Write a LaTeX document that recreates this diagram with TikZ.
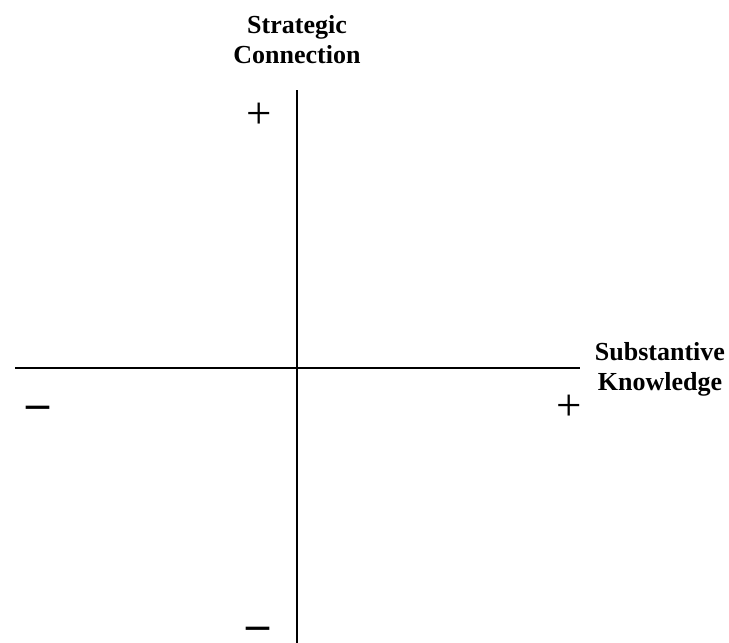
\documentclass[tikz,border=0pt]{standalone}
\usepackage{fontspec}
\setmainfont{Liberation Serif}
\begin{document}
\begin{tikzpicture}[x=1pt,y=-1pt,
  axis/.style={line width=1.6pt,black},
  lab/.style={font=\fontsize{26}{30}\selectfont\bfseries,align=center,inner sep=0pt},
  sign/.style={font=\fontsize{45}{45}\selectfont,inner sep=0pt},
  negsign/.style={font=\fontsize{46}{46}\selectfont\bfseries,inner sep=0pt,anchor=base,text depth=0pt,text height=14pt}]
\useasboundingbox (0,0) rectangle (729,643);
\coordinate (vtop) at (297,90);
\coordinate (vbot) at (297,643);
\coordinate (hl) at (15,368);
\coordinate (hr) at (580,368);
\draw[axis] (vtop) -- (vbot);
\draw[axis] (hl) -- (hr);
\node[lab] (ylab) at (297,40) {Strategic\\Connection};
\node[lab] (xlab) at (660,369) {Substantive\\Knowledge};
\node[sign] (yplus) at (259,116) {+};
\node[sign] (xplus) at (569,408) {+};
\node[negsign] (xminus) at (38,418) {\textendash};
\node[negsign] (yminus) at (258,639) {\textendash};
\end{tikzpicture}
\end{document}
